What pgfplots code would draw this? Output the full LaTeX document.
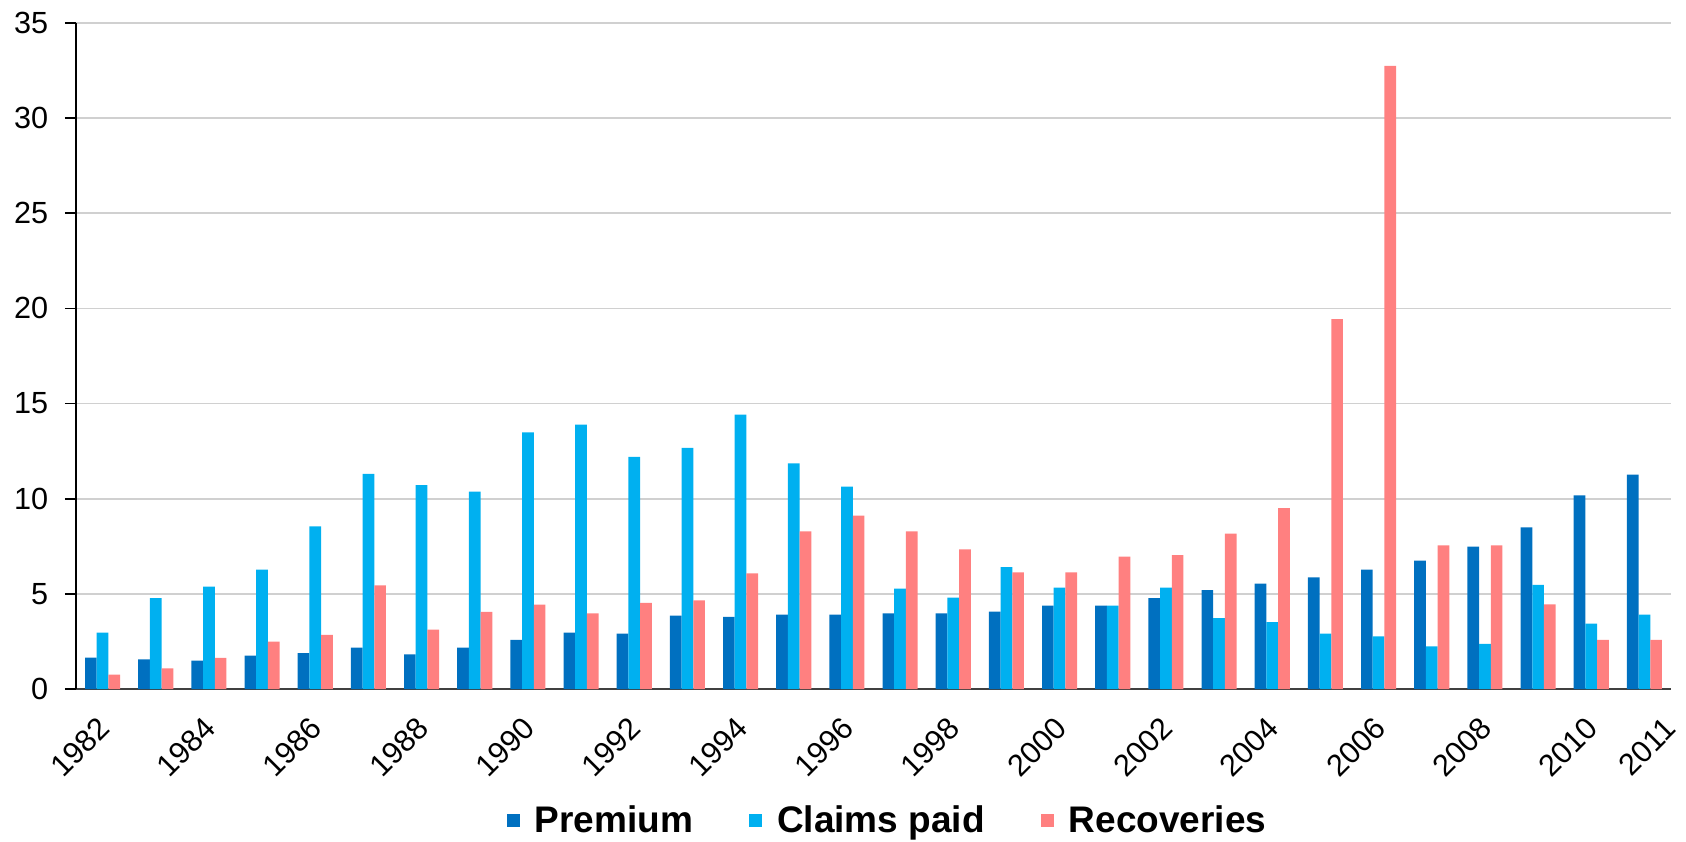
\documentclass[border=0pt]{standalone}
\usepackage{fontspec}
\setmainfont{Liberation Sans}
\usepackage{pgfplots}
\usepackage{pgfplotstable}
\pgfplotsset{compat=1.18}
\definecolor{cPrem}{HTML}{0070C0}
\definecolor{cClaim}{HTML}{00B0F0}
\definecolor{cRec}{HTML}{FF8080}
\definecolor{cGrid}{HTML}{D0D0D0}
\pgfplotstableread{
x prem claims rec
0 1.65 2.96 0.75
1 1.56 4.78 1.09
2 1.49 5.38 1.63
3 1.75 6.27 2.49
4 1.89 8.55 2.84
5 2.17 11.30 5.45
6 1.82 10.71 3.12
7 2.17 10.37 4.05
8 2.58 13.48 4.43
9 2.96 13.90 3.98
10 2.91 12.20 4.52
11 3.86 12.67 4.66
12 3.79 14.42 6.08
13 3.91 11.86 8.29
14 3.91 10.64 9.11
15 3.98 5.28 8.29
16 3.98 4.80 7.34
17 4.07 6.41 6.13
18 4.38 5.33 6.13
19 4.38 4.38 6.96
20 4.78 5.33 7.03
21 5.20 3.72 8.17
22 5.54 3.51 9.50
23 5.87 2.91 19.44
24 6.27 2.77 32.75
25 6.75 2.24 7.55
26 7.48 2.37 7.55
27 8.50 5.47 4.45
28 10.18 3.43 2.58
29 11.27 3.91 2.58
}\datatable
\newcommand{\tickfont}{\fontsize{15.3}{18}\selectfont}
\begin{document}
\begin{tikzpicture}
\useasboundingbox (0,0) rectangle (843pt,420.5pt);
\begin{axis}[
  at={(38pt,76pt)}, anchor=south west,
  scale only axis, width=797.5pt, height=333pt,
  ybar=0pt, bar width=0.22,
  xmin=-0.5, xmax=29.5, ymin=0, ymax=35,
  ytick={0,5,...,35},
  yticklabels={0,5,10,15,20,25,30,35},
  axis x line=bottom, axis y line=left,
  axis line style={-},
  x axis line style={draw=black!75, line width=1pt},
  y axis line style={draw=black, line width=0.8pt},
  ymajorgrids, grid style={cGrid, line width=0.8pt},
  tick align=outside, major tick length=5.5pt,
  ytick style={black, line width=0.8pt},
  xtick style={draw=none},
  xtick={0,2,...,28},
  xticklabels={1982,1984,1986,1988,1990,1992,1994,1996,1998,2000,2002,2004,2006,2008,2010},
  extra x ticks={29}, extra x tick labels={2011},
  extra x tick style={xticklabel style={xshift=8.66pt, yshift=-8.66pt}},
  tick label style={font=\tickfont},
  yticklabel style={black, anchor=east, inner sep=0pt, xshift=-8.25pt},
  xticklabel style={black, inner sep=0pt, xshift=-3.25pt, yshift=-7.5pt, rotate=45, anchor=north east},
  legend columns=3,
  legend style={at={(0.5094,-0.198)}, anchor=center, draw=none, fill=none,
    font=\fontsize{18.5}{22}\selectfont\bfseries,
    /tikz/every even column/.append style={column sep=26pt},
    inner sep=0pt},
  legend image code/.code={\path[#1,draw=none] (0pt,-3.25pt) rectangle (6.5pt,3.25pt); \path (12pt,0pt);},
]
\addplot[fill=cPrem, draw=none] table[x=x, y=prem] {\datatable};
\addplot[fill=cClaim, draw=none] table[x=x, y=claims] {\datatable};
\addplot[fill=cRec, draw=none] table[x=x, y=rec] {\datatable};
\legend{Premium, Claims paid, Recoveries}
\end{axis}
\end{tikzpicture}
\end{document}
